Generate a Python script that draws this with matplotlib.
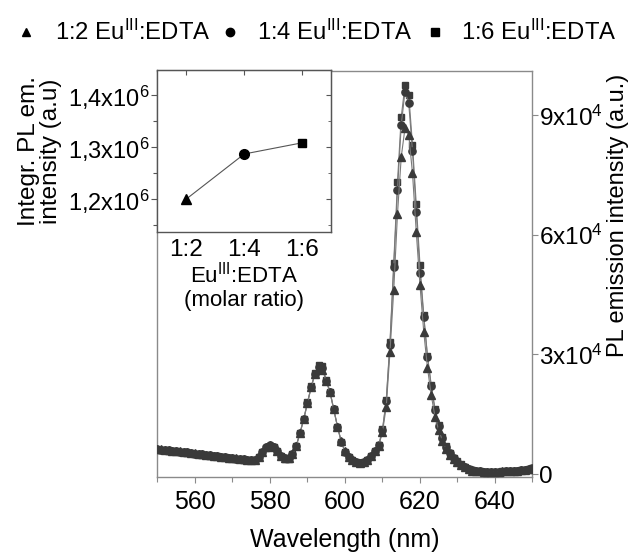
import matplotlib
matplotlib.use("Agg")
import matplotlib.pyplot as plt
from matplotlib.lines import Line2D
from matplotlib.ticker import FixedLocator, MultipleLocator, FuncFormatter
import numpy as np

plt.rcParams['font.family'] = ['Liberation Sans', 'DejaVu Sans']
plt.rcParams['mathtext.fontset'] = 'custom'
plt.rcParams['mathtext.rm'] = 'Liberation Sans'
plt.rcParams['mathtext.it'] = 'Liberation Sans:italic'
plt.rcParams['mathtext.bf'] = 'Liberation Sans:bold'
plt.rcParams['mathtext.default'] = 'regular'

# ---------------- data ----------------
wavelength = list(range(550, 651))

ratio_1_2 = [
    6300, 6200, 6100, 6000, 5900, 5800, 5700, 5600, 5500, 5350,
    5200, 5100, 5000, 4850, 4750, 4600, 4500, 4350, 4250, 4100,
    4000, 3900, 3800, 3700, 3600, 3500, 3600, 4300, 5600, 6700,
    7200, 6900, 5800, 4600, 3900, 3900, 5000, 7000, 10200, 13700,
    17800, 21800, 25000, 26600, 26200, 23300, 20500, 16200, 11900, 8200,
    5700, 4300, 3500, 3000, 2850, 3000, 3400, 4400, 5700, 7100,
    10600, 16900, 30700, 46200, 65300, 79600, 86800, 85100, 75500, 60800,
    47400, 35700, 26600, 19800, 14400, 11000, 8400, 6400, 4900, 3800,
    3000, 2200, 1700, 1200, 850, 700, 650, 600, 600, 600,
    600, 600, 650, 650, 700, 750, 850, 950, 1050, 1200,
    1350]

ratio_1_4 = [
    6200, 6150, 6050, 5950, 5850, 5750, 5650, 5550, 5450, 5300,
    5150, 5050, 4950, 4800, 4700, 4550, 4450, 4300, 4200, 4050,
    3950, 3850, 3750, 3650, 3550, 3450, 3550, 4250, 5550, 6700,
    7200, 6900, 5800, 4600, 3900, 3900, 5100, 7100, 10300, 13800,
    17900, 21900, 25200, 26900, 26600, 23400, 20600, 16200, 11900, 8100,
    5600, 4300, 3500, 3000, 2850, 3000, 3450, 4500, 5700, 7200,
    11000, 18300, 32500, 52000, 71300, 87600, 96000, 93000, 81000, 65800,
    50400, 39500, 29400, 22000, 16000, 12000, 9000, 6800, 5200, 4000,
    3100, 2300, 1750, 1250, 900, 700, 650, 600, 600, 600,
    600, 600, 600, 650, 700, 750, 850, 950, 1100, 1250,
    1400]

ratio_1_6 = [
    6150, 6100, 6000, 5900, 5800, 5700, 5600, 5500, 5400, 5250,
    5100, 5000, 4900, 4750, 4650, 4500, 4400, 4250, 4150, 4000,
    3900, 3800, 3700, 3600, 3500, 3400, 3500, 4200, 5500, 6600,
    7100, 6800, 5700, 4500, 3850, 3850, 5100, 7100, 10300, 13900,
    18000, 22000, 25400, 27300, 27000, 23600, 20700, 16300, 11900, 8100,
    5600, 4300, 3500, 3000, 2850, 3000, 3450, 4500, 5800, 7300,
    11200, 18600, 33200, 53000, 73300, 89600, 97600, 95200, 82600, 67800,
    52500, 39800, 29600, 22300, 16400, 12300, 9200, 7000, 5400, 4100,
    3200, 2400, 1800, 1300, 950, 750, 650, 600, 600, 600,
    600, 600, 650, 650, 700, 750, 850, 950, 1100, 1250,
    1400]

inset_labels = ['1:2', '1:4', '1:6']
inset_values = [1.200e6, 1.2865e6, 1.308e6]
inset_markers = ['^', 'o', 's']

legend_labels = ['1:2 Eu$^{III}$:EDTA', '1:4 Eu$^{III}$:EDTA', '1:6 Eu$^{III}$:EDTA']

# ---------------- figure ----------------
W, H = 634, 553
fig = plt.figure(figsize=(W / 100, H / 100), dpi=100)

mark_col = '#3a3a3a'
line_col = '#7a7a7a'
spine_main = '#8a8a8a'
spine_ins = '#555555'

ax = fig.add_axes([0.2484, 0.1374, 0.5915, 0.7342])
ax.plot(wavelength, ratio_1_6, marker='s', ms=5.0, color=line_col, lw=0.8,
        mfc=mark_col, mec=mark_col, zorder=2)
ax.plot(wavelength, ratio_1_4, marker='o', ms=5.2, color=line_col, lw=0.8,
        mfc=mark_col, mec=mark_col, zorder=3)
ax.plot(wavelength, ratio_1_2, marker='^', ms=5.8, color=line_col, lw=0.8,
        mfc=mark_col, mec=mark_col, zorder=4)

ax.set_xlim(550, 650)
ax.set_ylim(-750, 101150)
ax.xaxis.set_major_locator(FixedLocator([560, 580, 600, 620, 640]))
ax.xaxis.set_minor_locator(MultipleLocator(10))
ax.yaxis.set_major_locator(FixedLocator([0, 30000, 60000, 90000]))

def yfmt(v, pos):
    if v == 0:
        return '0'
    return '%dx10$^4$' % round(v / 1e4)
ax.yaxis.set_major_formatter(FuncFormatter(yfmt))
ax.yaxis.tick_right()
ax.yaxis.set_label_position('right')
ax.tick_params(axis='x', which='major', direction='out', length=4.5, width=0.8,
               color=spine_main, labelsize=18, pad=5)
ax.tick_params(axis='x', which='minor', direction='out', length=3.5, width=0.8,
               color=spine_main)
ax.tick_params(axis='y', which='major', direction='out', length=4, width=0.8,
               color=spine_main, labelsize=17.5, pad=1, left=False, right=True)
for s in ax.spines.values():
    s.set_color(spine_main)
    s.set_linewidth(1.0)

ax.set_xlabel('Wavelength (nm)', fontsize=18, labelpad=10)
ax.set_ylabel('PL emission intensity (a.u.)', fontsize=17, rotation=90)
ax.yaxis.set_label_coords(1.199, 0.645)

# ---------------- inset ----------------
ins = fig.add_axes([0.2484, 0.5805, 0.2737, 0.2929])
xi = np.arange(len(inset_labels))
ins.plot(xi, inset_values, color=spine_ins, lw=0.8, zorder=2)
for x, v, m in zip(xi, inset_values, inset_markers):
    ins.plot([x], [v], marker=m, ms=7 if m != 's' else 6.2, color='black',
             linestyle='none', zorder=3)
ins.set_xlim(-0.5, 2.5)
ins.set_ylim(1.1365e6, 1.448e6)
ins.set_xticks(xi)
ins.set_xticklabels(inset_labels)
ins.yaxis.set_major_locator(FixedLocator([1.2e6, 1.3e6, 1.4e6]))
ins.yaxis.set_minor_locator(FixedLocator([1.15e6, 1.25e6, 1.35e6]))

def ifmt(v, pos):
    return ('%.1f' % (v / 1e6)).replace('.', ',') + 'x10$^6$'
ins.yaxis.set_major_formatter(FuncFormatter(ifmt))
ins.tick_params(axis='y', which='both', direction='out', left=True, right=False,
                color=spine_ins, width=0.8, labelsize=17, pad=1.5)
ins.tick_params(axis='y', which='major', length=4)
ins.tick_params(axis='y', which='minor', length=3)
ins.tick_params(axis='x', which='major', direction='out', length=0, labelsize=17.5, pad=5)
ins.set_ylabel('Integr. PL em.\nintensity (a.u)', fontsize=17.5, linespacing=1.0)
ins.yaxis.set_label_coords(-0.55, 0.5)
ins.set_xlabel('Eu$^{III}$:EDTA\n(molar ratio)', fontsize=16, linespacing=1.15)
ins.xaxis.set_label_coords(0.5, -0.185)
for s in ins.spines.values():
    s.set_color(spine_ins)
    s.set_linewidth(1.0)
# inward ticks on top and right (Origin-like)
sec_x = ins.secondary_xaxis('top')
sec_x.set_xticks(xi)
sec_x.tick_params(direction='in', length=3.5, color=spine_ins, labeltop=False)
sec_y = ins.secondary_yaxis('right')
sec_y.yaxis.set_major_locator(FixedLocator([1.2e6, 1.3e6, 1.4e6]))
sec_y.yaxis.set_minor_locator(FixedLocator([1.15e6, 1.25e6, 1.35e6]))
sec_y.tick_params(which='major', direction='in', length=3.5, color=spine_ins, labelright=False)
sec_y.tick_params(which='minor', direction='in', length=2.5, color=spine_ins, labelright=False)
sec_x.spines['top'].set_color(spine_ins)
sec_y.spines['right'].set_color(spine_ins)

# ---------------- legend (top row) ----------------
marker_x = [26, 230, 435]
text_x = [55, 257, 461]
leg_y_mark = 1 - 32 / H
leg_y_base = 1 - 40 / H
for mx, tx, m, lab in zip(marker_x, text_x, inset_markers, legend_labels):
    fig.add_artist(Line2D([mx / W], [leg_y_mark], transform=fig.transFigure,
                          marker=m, ms=6 if m != 's' else 5.2, color='black',
                          linestyle='none'))
    fig.text(tx / W, leg_y_base, lab, fontsize=17.2, ha='left', va='baseline')

fig.savefig('out.png', dpi=100)
